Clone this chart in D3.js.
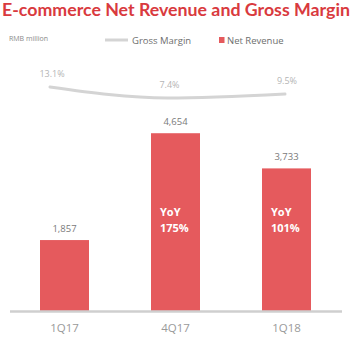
<!DOCTYPE html>
<html>
<head>
<meta charset="utf-8">
<script src="https://cdn.jsdelivr.net/npm/d3@7"></script>
<style>
  html, body { margin: 0; padding: 0; background: #fff; }
  svg { display: block; }
</style>
</head>
<body>
<svg id="chart" width="356" height="341"></svg>
<script>
// Quarterly e-commerce figures
const quarters = ["1Q17", "4Q17", "1Q18"];
const netRevenue = [1857, 4654, 3733];          // RMB million
const grossMargin = [13.1, 7.4, 9.5];           // %
const yoyGrowth = [null, "175%", "101%"];
const revenueLabels = ["1,857", "4,654", "3,733"];
const marginLabels = ["13.1%", "7.4%", "9.5%"];

const RED = "#e55a5d";
const TITLE_RED = "#d93a3e";
const LINE_GRAY = "#d4d4d4";
const TEXT_GRAY = "#7a7a7a";
const FONT = "'Open Sans', 'Noto Sans', sans-serif";

const svg = d3.select("#chart").style("font-family", FONT);

// Title
svg.append("text")
  .attr("x", 2).attr("y", 16.3)
  .attr("fill", TITLE_RED)
  .attr("font-family", "Lato, 'Open Sans', sans-serif")
  .attr("font-size", 16.5)
  .attr("font-weight", 700)
  .attr("textLength", 348)
  .attr("lengthAdjust", "spacingAndGlyphs")
  .text("E-commerce Net Revenue and Gross Margin");

// Unit note
svg.append("text")
  .attr("x", 9).attr("y", 40.5)
  .attr("fill", "#8a8a8a")
  .attr("font-size", 7)
  .text("RMB million");

// Legend
const legend = svg.append("g");
legend.append("line")
  .attr("x1", 105).attr("x2", 128).attr("y1", 40).attr("y2", 40)
  .attr("stroke", LINE_GRAY).attr("stroke-width", 3);
legend.append("text")
  .attr("x", 132).attr("y", 43.5)
  .attr("fill", "#6e6e6e").attr("font-size", 9.5)
  .text("Gross Margin");
legend.append("rect")
  .attr("x", 219).attr("y", 37).attr("width", 5.5).attr("height", 6)
  .attr("fill", RED);
legend.append("text")
  .attr("x", 227).attr("y", 43.5)
  .attr("fill", "#6e6e6e").attr("font-size", 9.5)
  .text("Net Revenue");

// Bars
const x = d3.scaleBand().domain(quarters).range([40, 311]).paddingInner(0.5586).paddingOuter(0);
const y = d3.scaleLinear().domain([0, 5000]).range([311, 120]);

svg.append("g").selectAll("rect")
  .data(quarters)
  .join("rect")
  .attr("x", d => x(d))
  .attr("width", x.bandwidth())
  .attr("y", (d, i) => y(netRevenue[i]))
  .attr("height", (d, i) => y(0) - y(netRevenue[i]))
  .attr("fill", RED);

// Revenue values above bars
svg.append("g").selectAll("text")
  .data(quarters)
  .join("text")
  .attr("x", d => x(d) + x.bandwidth() / 2)
  .attr("y", (d, i) => y(netRevenue[i]) - 8)
  .attr("text-anchor", "middle")
  .attr("fill", TEXT_GRAY)
  .attr("font-size", 9.5)
  .text((d, i) => revenueLabels[i]);

// YoY growth inside bars
quarters.forEach((q, i) => {
  if (!yoyGrowth[i]) return;
  const t = svg.append("text")
    .attr("fill", "#fff")
    .attr("font-size", 11)
    .attr("font-weight", 700);
  t.append("tspan").attr("x", x(q) + 9).attr("y", 215.5).text("YoY");
  t.append("tspan").attr("x", x(q) + 9).attr("y", 231.5).text(yoyGrowth[i]);
});

// Baseline axis
const xAxis = d3.axisBottom(x).tickSize(0).tickPadding(13);
const axisG = svg.append("g").attr("transform", "translate(0,311)").call(xAxis);
axisG.select(".domain").remove();
axisG.append("line")
  .attr("x1", 10).attr("x2", 342).attr("y1", 0.5).attr("y2", 0.5)
  .attr("stroke", "#cfcfcf").attr("stroke-width", 2.5);
axisG.selectAll(".tick text")
  .attr("font-family", FONT)
  .attr("font-size", 11.5)
  .attr("fill", "#9a9a9a");

// Gross margin line
const xm = d3.scalePoint().domain(quarters).range([50, 285]);
const ym = d3.scaleLinear().domain([0, 15]).range([112.3, 83.4]);

svg.append("path")
  .datum(quarters)
  .attr("fill", "none")
  .attr("stroke", LINE_GRAY)
  .attr("stroke-width", 3)
  .attr("stroke-linecap", "round")
  .attr("d", d3.line()
    .x(d => xm(d))
    .y((d, i) => ym(grossMargin[i]))
    .curve(d3.curveMonotoneX));

svg.append("g").selectAll("text")
  .data(quarters)
  .join("text")
  .attr("x", d => xm(d) + 2)
  .attr("y", (d, i) => ym(grossMargin[i]) - 10)
  .attr("text-anchor", "middle")
  .attr("fill", "#b5b5b5")
  .attr("font-size", 9)
  .text((d, i) => marginLabels[i]);
</script>
</body>
</html>
